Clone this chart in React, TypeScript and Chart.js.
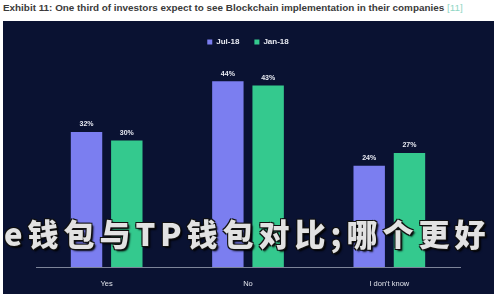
import React, { useEffect, useRef } from "react";
import { Chart, registerables } from "chart.js";

Chart.register(...registerables);

const title = "Exhibit 11: One third of investors expect to see Blockchain implementation in their companies";
const titleRef = "[11]";
const overlayText = "e钱包与TP钱包对比;哪个更好";
const categories = ["Yes", "No", "I don't know"];
const seriesNames = ["Jul-18", "Jan-18"];
const jul18 = [32, 44, 24];
const jan18 = [30, 43, 27];
const colors = ["#7b7ef0", "#34c98e"];

const labelPlugin = {
  id: "barLabels",
  afterDatasetsDraw(chart: any) {
    const ctx = chart.ctx;
    ctx.save();
    ctx.font = "bold 7px Arial, 'Liberation Sans', sans-serif";
    ctx.fillStyle = "#e8eaf2";
    ctx.textAlign = "center";
    ctx.textBaseline = "bottom";
    chart.data.datasets.forEach((ds: any, i: number) => {
      const meta = chart.getDatasetMeta(i);
      meta.data.forEach((bar: any, j: number) => {
        ctx.fillText(ds.data[j] + "%", bar.x, bar.y - 4);
      });
    });
    ctx.restore();
  },
};

export default function App() {
  const ref = useRef<HTMLCanvasElement>(null);
  useEffect(() => {
    if (!ref.current) return;
    const chart = new Chart(ref.current, {
      type: "bar",
      data: {
        labels: categories,
        datasets: [
          { label: seriesNames[0], data: jul18, backgroundColor: colors[0], categoryPercentage: 0.57, barPercentage: 0.78 },
          { label: seriesNames[1], data: jan18, backgroundColor: colors[1], categoryPercentage: 0.57, barPercentage: 0.78 },
        ],
      },
      options: {
        animation: false,
        responsive: false,
        maintainAspectRatio: false,
        layout: { padding: { left: 33, right: 34, top: 2, bottom: 2 } },
        plugins: {
          legend: {
            display: true,
            position: "top",
            labels: {
              color: "#e8eaf2",
              font: { size: 8, weight: "bold", family: "Arial, 'Liberation Sans', sans-serif" },
              boxWidth: 5,
              boxHeight: 5,
              padding: 15,
            },
          },
          tooltip: { enabled: false },
        },
        scales: {
          x: {
            grid: { display: false },
            border: { display: true, color: "#7d8499", width: 1 },
            ticks: { color: "#dfe2ea", font: { size: 7.5, family: "Arial, 'Liberation Sans', sans-serif" }, padding: 4 },
          },
          y: { display: false, min: 0, max: 50 },
        },
      },
      plugins: [labelPlugin],
    });
    return () => chart.destroy();
  }, []);

  return (
    <div style={{ position: "fixed", left: 0, top: 0, width: 500, height: 300, overflow: "hidden", background: "#ffffff" }}>
      <div
        style={{
          position: "absolute",
          left: 3,
          top: 2,
          fontFamily: "Arial, 'Liberation Sans', sans-serif",
          fontWeight: "bold",
          fontSize: 9.9,
          color: "#3a3a3a",
          whiteSpace: "nowrap",
        }}
      >
        {title} <span style={{ color: "#8fd6c4", fontWeight: "normal" }}>{titleRef}</span>
      </div>
      <div style={{ position: "absolute", left: 3, top: 21, width: 491, height: 273, background: "#0a1232" }}>
        <canvas ref={ref} width={491} height={273} style={{ display: "block" }} />
      </div>
      <div
        style={{
          position: "absolute",
          left: 4,
          top: 217,
          fontFamily: "'Noto Sans CJK SC', sans-serif",
          fontWeight: 900,
          fontSize: 31,
          lineHeight: "32px",
          letterSpacing: 5,
          color: "rgba(255,255,255,0.88)",
          whiteSpace: "nowrap",
          textShadow: "1px 1px 0 #111, -1px -1px 0 #111, 1px -1px 0 #111, -1px 1px 0 #111, 2px 2px 2px #000",
        }}
      >
        {overlayText}
      </div>
    </div>
  );
}
